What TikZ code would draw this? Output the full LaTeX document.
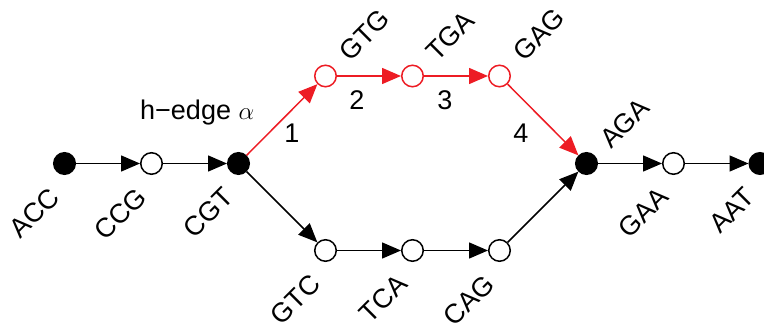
\documentclass[tikz,border=0pt]{standalone}
\usepackage{fontspec}
\setmainfont{Liberation Sans}
\usetikzlibrary{arrows.meta}
\definecolor{hred}{RGB}{237,28,36}
\tikzset{
  x=1pt,y=1pt,
  vfull/.style={circle,draw=black,fill=black,line width=1.5pt,minimum size=21.5pt,inner sep=0pt},
  vopen/.style={circle,draw=black,fill=white,line width=1.5pt,minimum size=21.5pt,inner sep=0pt},
  vred/.style={circle,draw=hred,fill=white,line width=1.5pt,minimum size=21.5pt,inner sep=0pt},
  edg/.style={line width=1.5pt,-{Triangle[length=19pt,width=16pt]}},
  redg/.style={edg,draw=hred,fill=hred},
  txt/.style={font=\fontsize{27}{30}\selectfont,inner sep=0pt},
  toplab/.style={txt,rotate=45,anchor=west},
  botlab/.style={txt,rotate=45,anchor=east}
}
\begin{document}
\begin{tikzpicture}
\useasboundingbox (0,0) rectangle (764,324);
% nodes
\node[vfull] (ACC) at (64.5,160.5) {};
\node[vopen] (CCG) at (151.5,160.5) {};
\node[vfull] (CGT) at (238.5,160.5) {};
\node[vred] (GTG) at (325.5,248) {};
\node[vred] (TGA) at (412.5,248) {};
\node[vred] (GAG) at (499.5,248) {};
\node[vfull] (AGA) at (586.5,160.5) {};
\node[vopen] (GAA) at (673.5,160.5) {};
\node[vfull] (AAT) at (760,160.5) {};
\node[vopen] (GTC) at (325.5,73.5) {};
\node[vopen] (TCA) at (412.5,73.5) {};
\node[vopen] (CAG) at (499.5,73.5) {};
% edges
\draw[edg] (ACC) -- (CCG);
\draw[edg] (CCG) -- (CGT);
\draw[redg] (CGT) -- (GTG);
\draw[redg] (GTG) -- (TGA);
\draw[redg] (TGA) -- (GAG);
\draw[redg] (GAG) -- (AGA);
\draw[edg] (CGT) -- (GTC);
\draw[edg] (GTC) -- (TCA);
\draw[edg] (TCA) -- (CAG);
\draw[edg] (CAG) -- (AGA);
\draw[edg] (AGA) -- (GAA);
\draw[edg] (GAA) -- (AAT);
% labels
\node[botlab] (lACC) at ([shift={(-10,-29)}]ACC.center) {ACC};
\node[botlab] (lCCG) at ([shift={(-10,-29)}]CCG.center) {CCG};
\node[botlab] (lCGT) at ([shift={(-10,-29)}]CGT.center) {CGT};
\node[botlab] (lGTC) at ([shift={(-10,-29)}]GTC.center) {GTC};
\node[botlab] (lTCA) at ([shift={(-10,-29)}]TCA.center) {TCA};
\node[botlab] (lCAG) at ([shift={(-10,-29)}]CAG.center) {CAG};
\node[botlab] (lGAA) at ([shift={(-10,-29)}]GAA.center) {GAA};
\node[botlab] (lAAT) at ([shift={(-10,-29)}]AAT.center) {AAT};
\node[toplab] (lGTG) at ([shift={(18,20)}]GTG.center) {GTG};
\node[toplab] (lTGA) at ([shift={(18,20)}]TGA.center) {TGA};
\node[toplab] (lGAG) at ([shift={(18,20)}]GAG.center) {GAG};
\node[toplab] (lAGA) at ([shift={(18,20)}]AGA.center) {AGA};
\node[txt,anchor=base west] (hedge) at (140,204) {h−edge {\fontsize{35}{35}\selectfont$\alpha$}};
\node[txt] (n1) at (292,191) {1};
\node[txt] (n2) at (357,224) {2};
\node[txt] (n3) at (445,224) {3};
\node[txt] (n4) at (521,191) {4};
\end{tikzpicture}
\end{document}
